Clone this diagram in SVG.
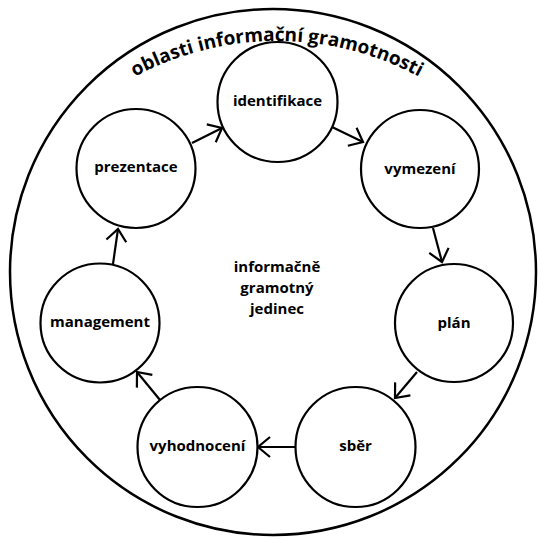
<svg xmlns="http://www.w3.org/2000/svg" width="539" height="539" viewBox="0 0 539 539">
<style>
.node circle{fill:#fff;stroke:#000;stroke-width:2.2}
.lbl{font-family:"Open Sans","Noto Sans",sans-serif;font-weight:bold;font-size:15px;fill:#000;text-anchor:middle}
.conn line{stroke:#000;stroke-width:2.2;fill:none;marker-end:url(#ah)}
.title{font-family:"Open Sans","Noto Sans",sans-serif;font-weight:bold;font-size:19px;fill:#000}
</style>
<defs>
<marker id="ah" viewBox="-16 -14 20 28" refX="0" refY="0" markerWidth="20" markerHeight="28" markerUnits="userSpaceOnUse" orient="auto">
<path d="M-12,-10 L0,0 L-12,10" fill="none" stroke="#000" stroke-width="2.2"/>
</marker>
<path id="arc" d="M-23,341 A300,300 0 0 1 577,341"/>
</defs>
<rect width="539" height="539" fill="#fff"/>
<g id="outer">
<circle cx="273" cy="272" r="263" fill="none" stroke="#000" stroke-width="2.5"/>
<text class="title"><textPath href="#arc" startOffset="50%" text-anchor="middle">oblasti informační gramotnosti</textPath></text>
</g>
<g id="center-label">
<text class="lbl" x="277" y="272">informačně</text>
<text class="lbl" x="277" y="293">gramotný</text>
<text class="lbl" x="277" y="314">jedinec</text>
</g>
<g class="conn" id="connectors">
<line x1="332" y1="127" x2="363" y2="142"/>
<line x1="433" y1="228" x2="442" y2="262"/>
<line x1="417" y1="372" x2="395" y2="398"/>
<line x1="295" y1="447" x2="258" y2="447"/>
<line x1="160" y1="400" x2="137" y2="372"/>
<line x1="113" y1="264" x2="118" y2="229"/>
<line x1="192" y1="143" x2="222" y2="128"/>
</g>
<g class="node" id="identifikace"><circle cx="277.5" cy="102" r="60"/><text class="lbl" x="277.5" y="106">identifikace</text></g>
<g class="node" id="vymezeni"><circle cx="420" cy="169" r="59"/><text class="lbl" x="420" y="174">vymezení</text></g>
<g class="node" id="plan"><circle cx="454" cy="323" r="59"/><text class="lbl" x="454" y="328">plán</text></g>
<g class="node" id="sber"><circle cx="355.5" cy="447" r="60"/><text class="lbl" x="355.5" y="451">sběr</text></g>
<g class="node" id="vyhodnoceni"><circle cx="197.5" cy="447" r="60"/><text class="lbl" x="197.5" y="451">vyhodnocení</text></g>
<g class="node" id="management"><circle cx="100" cy="323" r="59.5"/><text class="lbl" x="100" y="327">management</text></g>
<g class="node" id="prezentace"><circle cx="136" cy="168.5" r="59.5"/><text class="lbl" x="136" y="172">prezentace</text></g>
</svg>
